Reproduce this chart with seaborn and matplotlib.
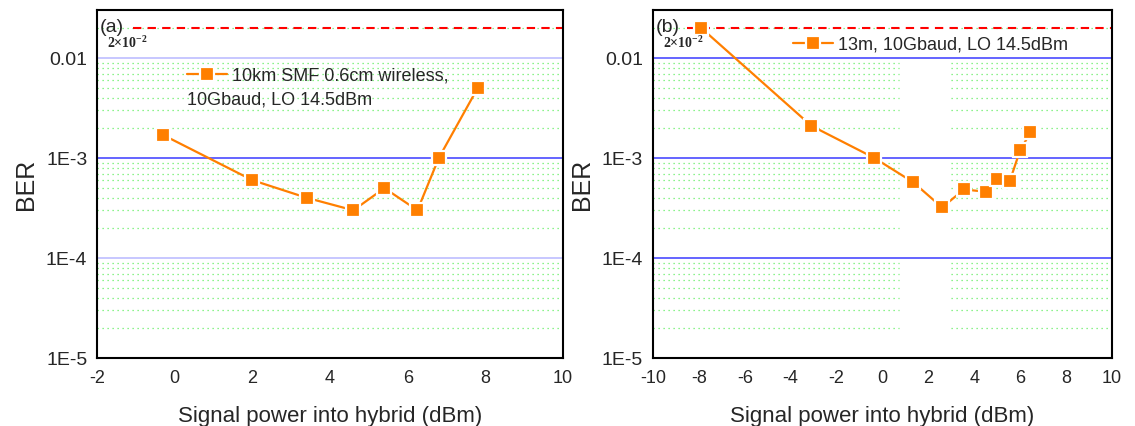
import numpy as np
import pandas as pd
import matplotlib
matplotlib.use("Agg")
import matplotlib.pyplot as plt
import seaborn as sns
from matplotlib.ticker import LogLocator, FixedLocator, MultipleLocator, NullFormatter

# data
x_a = [-0.3, 2.0, 3.4, 4.6, 5.4, 6.25, 6.8, 7.8]
ber_a = [1.7e-3, 6.0e-4, 4.0e-4, 3.0e-4, 5.0e-4, 3.0e-4, 1.0e-3, 5.0e-3]
label_a = "10km SMF 0.6cm wireless,"
label_a2 = "10Gbaud, LO 14.5dBm"

x_b = [-7.9, -3.1, -0.35, 1.35, 2.6, 3.55, 4.5, 5.0, 5.55, 6.0, 6.45]
ber_b = [2.0e-2, 2.1e-3, 1.0e-3, 5.7e-4, 3.2e-4, 4.85e-4, 4.6e-4, 6.1e-4, 5.9e-4, 1.2e-3, 1.8e-3]
label_b = "13m, 10Gbaud, LO 14.5dBm"

fec_limit = 2e-2
fec_text = r"$\mathbf{2{\times}10^{-2}}$"
ytick_vals = [1e-5, 1e-4, 1e-3, 1e-2]
ytick_labels = ["1E-5", "1E-4", "1E-3", "0.01"]

sns.set_style("white")
plt.rcParams["font.family"] = ["Liberation Sans", "DejaVu Sans"]
plt.rcParams["axes.unicode_minus"] = False
plt.rcParams["mathtext.fontset"] = "custom"
plt.rcParams["mathtext.rm"] = "Liberation Serif"
plt.rcParams["mathtext.bf"] = "Liberation Serif:bold"
plt.rcParams["xtick.direction"] = "out"
plt.rcParams["ytick.direction"] = "out"

orange = "#ff7f00"
fig = plt.figure(figsize=(11.35, 4.26), dpi=100)
ax1 = fig.add_axes([0.0855, 0.1596, 0.4106, 0.8169])
ax2 = fig.add_axes([0.5753, 0.1596, 0.4044, 0.8169])

df_a = pd.DataFrame({"x": x_a, "ber": ber_a})
df_b = pd.DataFrame({"x": x_b, "ber": ber_b})

minor_vals = [m * 10.0 ** e for e in (-5, -4, -3) for m in range(2, 10)] + [2e-2]
dots = (0, (1, 3))


def setup(ax, xlim, major_light, gap=None):
    ax.set_yscale("log")
    ax.set_xlim(*xlim)
    ax.set_ylim(1e-5, 0.0302)
    # minor green dotted grid
    if gap is None:
        ax.hlines(minor_vals, xlim[0], xlim[1], colors="#66ee66", linestyles=dots, linewidth=0.9, zorder=1)
    else:
        ax.hlines(minor_vals, xlim[0], gap[0], colors="#66ee66", linestyles=dots, linewidth=0.9, zorder=1)
        ax.hlines(minor_vals, gap[1], xlim[1], colors="#66ee66", linestyles=dots, linewidth=0.9, zorder=1)
    for v in [1e-4, 1e-3, 1e-2]:
        c = "#b8b8ff" if v in major_light else "#3a3aff"
        ax.axhline(v, color=c, linewidth=1.1, zorder=1)
    ax.yaxis.set_major_locator(FixedLocator(ytick_vals))
    ax.set_yticklabels(ytick_labels)
    ax.yaxis.set_minor_locator(LogLocator(base=10, subs=np.arange(2, 10)))
    ax.yaxis.set_minor_formatter(NullFormatter())
    ax.xaxis.set_major_locator(MultipleLocator(2))
    ax.xaxis.set_minor_locator(MultipleLocator(1))
    ax.tick_params(axis="both", which="major", length=5, width=1.2, labelsize=13)
    ax.tick_params(axis="both", which="minor", length=3, width=1.0)
    ax.tick_params(axis="y", labelsize=14, pad=2)
    for s in ax.spines.values():
        s.set_color("black")
        s.set_linewidth(1.5)


setup(ax1, (-2, 10), major_light=[1e-4, 1e-2])
setup(ax2, (-10, 10), major_light=[], gap=(0.7, 3.0))

style = dict(marker="s", color=orange, markersize=10, markeredgecolor="white",
             markeredgewidth=1.6, linewidth=1.6, zorder=3)
sns.lineplot(data=df_a, x="x", y="ber", ax=ax1, label=label_a, **style)
sns.lineplot(data=df_b, x="x", y="ber", ax=ax2, label=label_b, **style)

ax1.hlines(fec_limit, -1.07, 10, colors="red", linestyles=(0, (4, 3)), linewidth=1.5, zorder=2)
ax2.hlines(fec_limit, -8.5, 10, colors="red", linestyles=(0, (4, 3)), linewidth=1.5, zorder=2)

for ax, tag, lx, ly in [(ax1, "(a)", 0.193, 0.835), (ax2, "(b)", 0.305, 0.925)]:
    ax.set_xlabel("Signal power into hybrid (dBm)", fontsize=16, labelpad=14)
    ax.set_ylabel("BER", fontsize=18, labelpad=6)
    ax.text(0.005, 0.951, tag, transform=ax.transAxes, fontsize=14, va="center", ha="left")
    ax.text(0.022, 0.905, fec_text, transform=ax.transAxes, fontsize=10,
            va="center", ha="left")
    ax.legend(loc="upper left", bbox_to_anchor=(lx, ly), frameon=False, fontsize=13,
              borderpad=0, borderaxespad=0, handlelength=2.2, handletextpad=0.3)

ax1.text(0.193, 0.740, label_a2, transform=ax1.transAxes, fontsize=13, va="center", ha="left")

fig.savefig("out.png", dpi=100)
